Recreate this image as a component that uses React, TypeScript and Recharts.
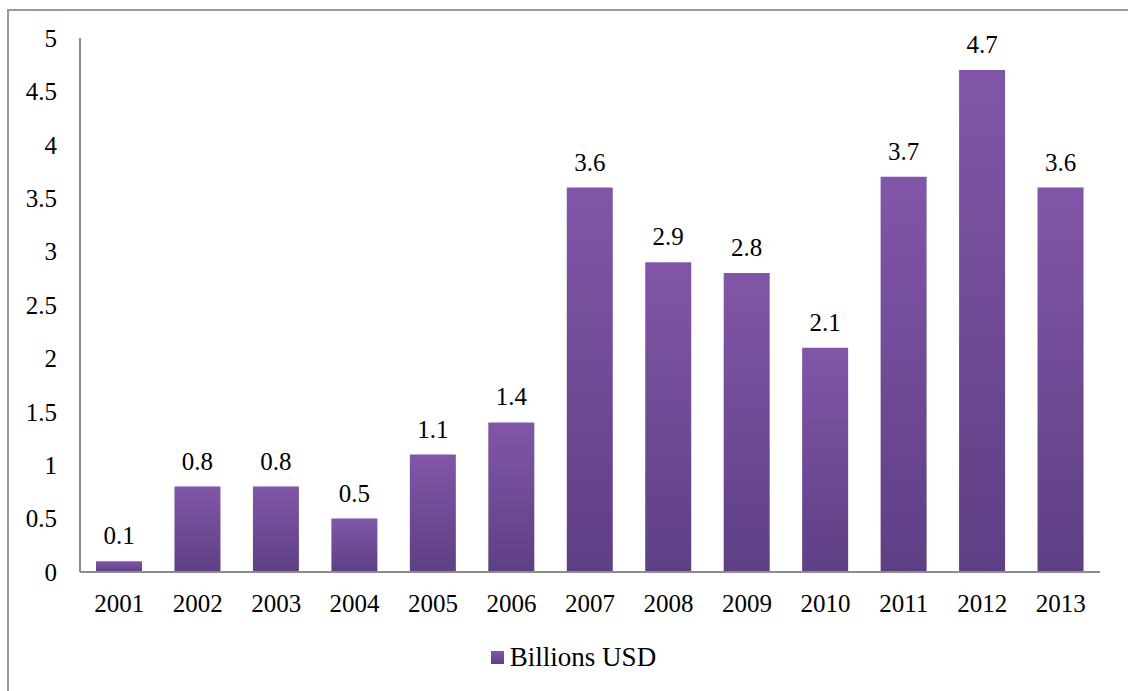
import { BarChart, Bar, XAxis, YAxis, LabelList, Legend } from "recharts";

const YEARS = ["2001", "2002", "2003", "2004", "2005", "2006", "2007", "2008", "2009", "2010", "2011", "2012", "2013"];
const BILLIONS = [0.1, 0.8, 0.8, 0.5, 1.1, 1.4, 3.6, 2.9, 2.8, 2.1, 3.7, 4.7, 3.6];
const Y_TICKS = [0, 0.5, 1, 1.5, 2, 2.5, 3, 3.5, 4, 4.5, 5];
const SERIES_NAME = "Billions USD";

const data = YEARS.map((year, i) => ({ year, value: BILLIONS[i] }));

const FONT = "Liberation Serif";
const tickStyle = { fill: "#000", fontSize: 25, fontFamily: FONT };

const LegendBox = () => (
  <div style={{ height: 40, display: "flex", alignItems: "center", justifyContent: "center", paddingLeft: 47, fontFamily: FONT, fontSize: 27, color: "#000" }}>
    <span style={{ width: 13, height: 13, marginRight: 6, background: "linear-gradient(#8156a8, #5e3f85)", display: "inline-block" }} />
    {SERIES_NAME}
  </div>
);

export default function App() {
  return (
    <div style={{ position: "fixed", left: 0, top: 0, width: 1128, height: 691, background: "#fff", overflow: "hidden", fontFamily: FONT }}>
      <div style={{ position: "absolute", left: 7, top: 9, width: 1300, height: 900, border: "2px solid #9a9a9a" }} />
      <div style={{ position: "absolute", left: 0, top: 0 }}>
        <BarChart width={1128} height={691} data={data} margin={{ top: 38, right: 28, left: 0, bottom: 14 }} barSize={46}>
          <defs>
            <linearGradient id="barGrad" x1="0" y1="0" x2="0" y2="1">
              <stop offset="0%" stopColor="#8156a8" />
              <stop offset="100%" stopColor="#5e3f84" />
            </linearGradient>
          </defs>
          <XAxis dataKey="year" tick={tickStyle} tickLine={false} axisLine={{ stroke: "#8c8c8c", strokeWidth: 2 }} tickMargin={16} height={65} interval={0} />
          <YAxis domain={[0, 5]} ticks={Y_TICKS} tick={tickStyle} tickLine={false} axisLine={{ stroke: "#8c8c8c", strokeWidth: 2 }} tickMargin={17} width={80} interval={0} />
          <Legend verticalAlign="bottom" content={() => <LegendBox />} />
          <Bar dataKey="value" name={SERIES_NAME} fill="url(#barGrad)" isAnimationActive={false}>
            <LabelList dataKey="value" position="top" offset={17} fill="#000" fontSize={25} fontFamily={FONT} />
          </Bar>
        </BarChart>
      </div>
    </div>
  );
}
